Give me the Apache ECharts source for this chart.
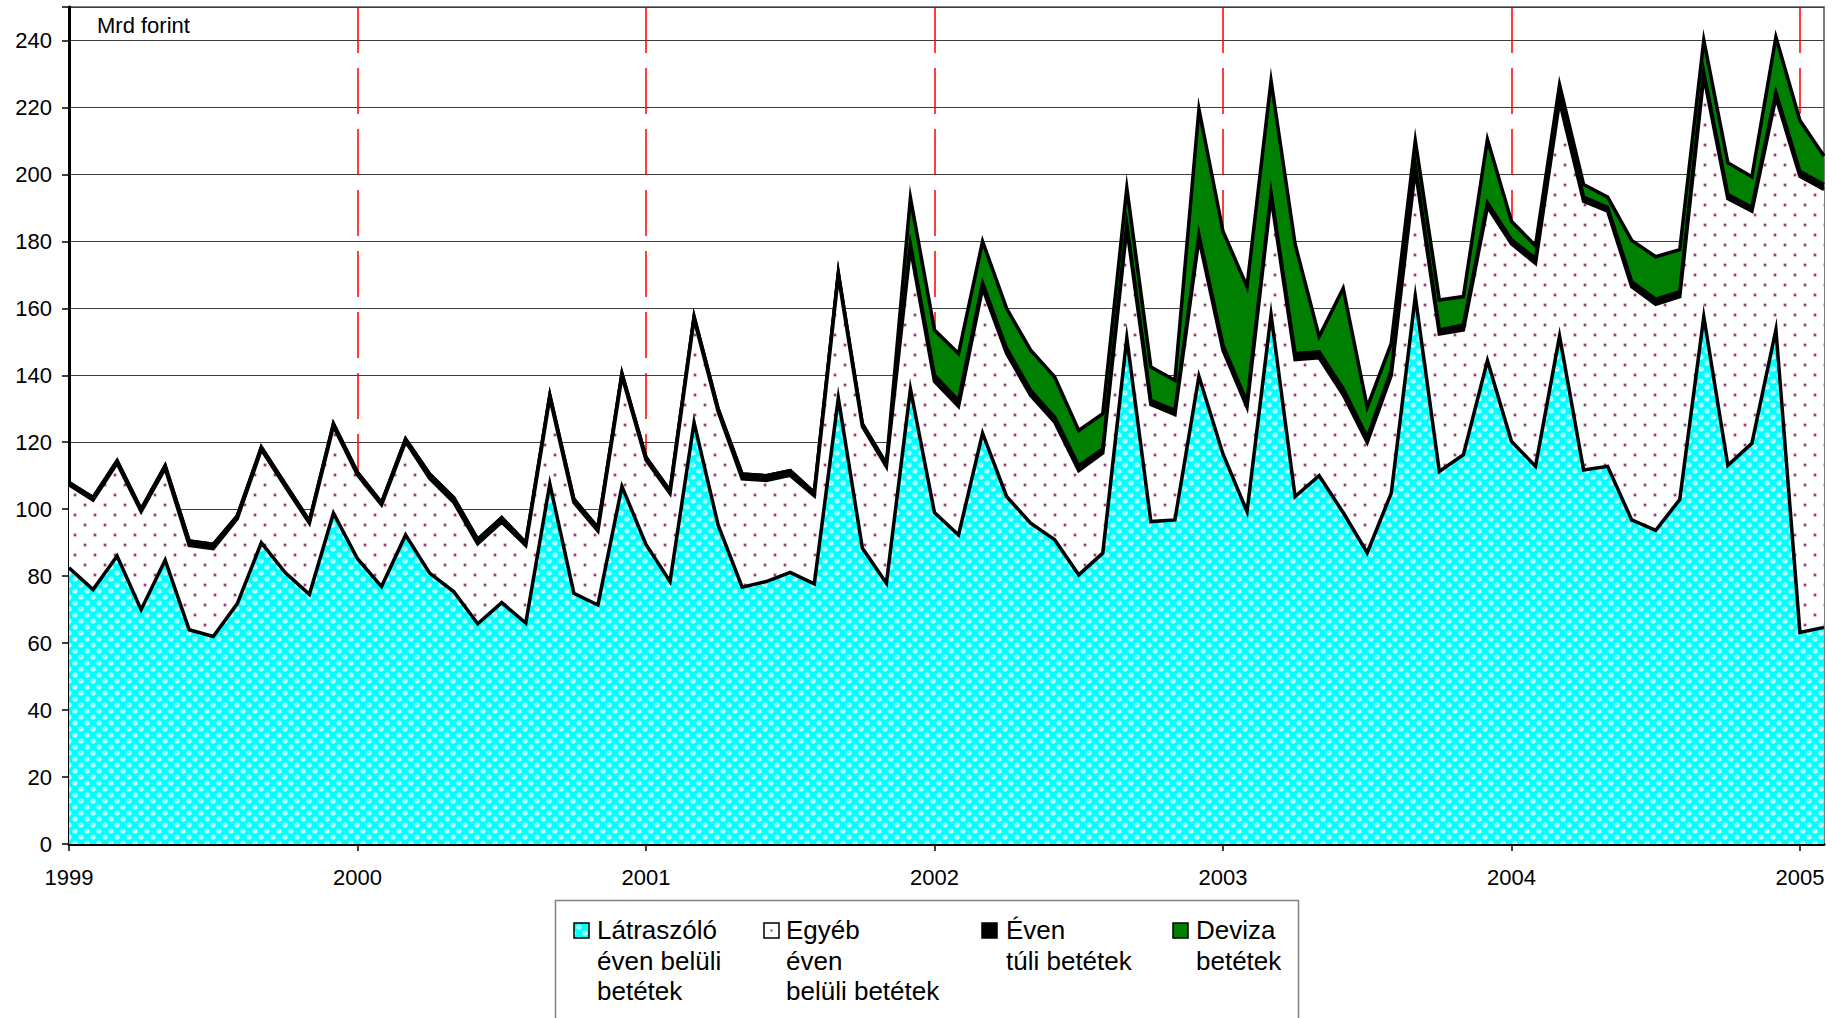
<!DOCTYPE html>
<html><head><meta charset="utf-8">
<script src="https://cdn.jsdelivr.net/npm/echarts@6/dist/echarts.min.js"></script>
<style>html,body{margin:0;padding:0;background:#fff}#chart{width:1840px;height:1018px}</style>
</head><body><div id="chart"></div>
<script>
// ---- data (Mrd forint, monthly, 1999.01 - 2005.02) ----
const yearLabels = ['1999','2000','2001','2002','2003','2004','2005'];
const monthCodes = ['01','02','03','04','05','06','07','08','09','10','11','12'];
const seriesNames = ['Látraszóló éven belüli betétek','Egyéb éven belüli betétek','Éven túli betétek','Deviza betétek'];
const legendTexts = ['Látraszóló\néven belüli\nbetétek','Egyéb\néven\nbelüli betétek','Éven\ntúli betétek','Deviza\nbetétek'];
const yAxisName = 'Mrd forint';

const latraszolo = [
  82.5,76,86,70,84.8,64,62,71.8,90,81,74.6,98.8,
  85.2,76.9,92.3,80.9,75.4,65.8,72.1,66,107.6,74.9,71.4,106.8,
  89.5,78.4,125.9,95.3,76.7,78.4,81.1,77.7,133.2,88.4,77.9,135.9,
  99,92.3,122.7,103.8,95.8,90.9,80.4,86.9,151.1,96.3,96.8,139.7,
  116.5,99.3,158.1,103.8,110,99,87,104.8,163.6,111.3,116.3,144.4,
  120.3,112.8,151.7,111.7,112.8,96.8,93.7,102.9,157.5,113.1,119.7,153.6,
  63.2,64.7];
const egyeb = [
  24.8,26.7,27.7,29.3,27.4,25.2,26.2,25.4,27.8,25.7,21.2,26.0,
  25.0,24.4,27.9,28.3,26.7,23.9,24.1,23.2,25.7,27.1,22.1,33.0,
  25.2,26.3,30.9,33.9,32.4,30.2,29.0,26.3,36.6,36.3,34.8,42.1,
  39.2,38.4,43.3,42.7,38.2,35.1,31.1,29.9,32.9,35.0,31.5,41.1,
  31.0,31.2,35.2,40.9,35.2,35.2,33.0,35.2,37.9,41.0,37.2,45.9,
  59.0,60.6,70.1,80.3,76.2,69.7,67.5,60.6,71.8,79.7,69.3,69.4,
  136.2,130.8];
const evenTuli = [
  0.7,0.8,0.8,0.7,0.8,1.3,1.3,0.8,0.7,0.8,0.7,0.7,
  0.8,0.7,0.8,1.3,1.4,1.3,1.3,0.8,0.7,1.0,1.0,0.7,
  0.8,0.8,0.7,0.8,1.4,1.4,1.4,1.0,0.7,0.8,0.8,1.0,
  1.8,1.8,1.5,1.5,1.5,1.5,1.5,1.2,1.0,1.2,1.2,1.2,
  1.5,1.5,1.2,1.8,1.8,1.8,1.5,1.5,1.0,1.2,1.5,1.2,
  1.2,1.5,1.2,1.2,1.2,1.5,1.5,1.5,1.2,1.2,1.2,1.5,
  1.5,1.5];
const deviza = [
  0,0,0,0,0,0,0,0,0,0,0,0,
  0,0,0,0,0,0,0,0,0,0,0,0,
  0,0,0,0,0,0,0,0,0,0,0,14,
  13.5,14,12.5,12,12,12,10.5,10.5,11,10,9,37.5,
  34,34.5,33.5,32.7,4.6,30,9,8,7.6,9,8.5,19,
  5.5,3.8,3.8,3.8,3,12.3,12.7,12.5,9.6,9.5,9.1,16.5,
  15.2,8.5];

const categories = [];
yearLabels.forEach(y => monthCodes.forEach(m => {
  if (categories.length < latraszolo.length) categories.push(y + '.' + m);
}));

// ---- fill patterns ----
function cyanTile() {
  const c = document.createElement('canvas'); c.width = 12; c.height = 12;
  const g = c.getContext('2d');
  g.fillStyle = '#00FFFF'; g.fillRect(0, 0, 12, 12);
  g.fillStyle = '#BFFFFF';
  [[3,3],[9,9]].forEach(p => { g.beginPath(); g.arc(p[0], p[1], 2.6, 0, Math.PI * 2); g.fill(); });
  g.strokeStyle = '#33EAEA'; g.lineWidth = 0.8;
  [[3,3],[9,9]].forEach(p => { g.beginPath(); g.arc(p[0], p[1] + 0.6, 1.3, Math.PI * 1.15, Math.PI * 1.85); g.stroke(); });
  return c;
}
function dotTile() {
  const c = document.createElement('canvas'); c.width = 20; c.height = 20;
  const g = c.getContext('2d');
  g.fillStyle = '#FFFFFF'; g.fillRect(0, 0, 20, 20);
  [[5,5],[15,15]].forEach(p => {
    g.fillStyle = '#E6C6D8'; g.beginPath(); g.arc(p[0], p[1], 2.2, 0, Math.PI * 2); g.fill();
    g.fillStyle = '#8E3A70'; g.beginPath(); g.arc(p[0], p[1], 1.2, 0, Math.PI * 2); g.fill();
  });
  return c;
}
const cyanPattern = { image: cyanTile(), repeat: 'repeat' };
const dotPattern = { image: dotTile(), repeat: 'repeat' };
const FONT = '"Liberation Sans", Arial, sans-serif';

const lineStyle = { color: '#000', width: 3.5, join: 'miter', miterLimit: 20 };
function mkSeries(i, data, fill, z) {
  return {
    name: seriesNames[i], type: 'line', stack: 'total', data: data,
    symbol: 'none', showSymbol: false, z: z,
    lineStyle: lineStyle,
    areaStyle: { color: fill, opacity: 1 },
    itemStyle: { color: typeof fill === 'string' ? fill : (i === 0 ? '#00FFFF' : '#FFFFFF') },
    emphasis: { disabled: true }
  };
}

// ---- legend (drawn as graphic so icons align with first text line) ----
const legendX = [574, 764, 982, 1173];
const textX = [597, 786, 1006, 1196];
const iconFills = [cyanPattern, '#FFFFFF', '#000000', '#008000'];
const graphic = [
  { type: 'rect', silent: true, shape: { x: 555.5, y: 900.5, width: 743, height: 200 },
    style: { fill: 'none', stroke: '#808080', lineWidth: 1.5 } }
];
for (let i = 0; i < 4; i++) {
  graphic.push({ type: 'rect', silent: true, shape: { x: legendX[i], y: 923, width: 15, height: 15 },
    style: { fill: iconFills[i], stroke: '#000', lineWidth: 1.5 } });
  graphic.push({ type: 'text', silent: true, x: textX[i], y: 915,
    style: { text: legendTexts[i], font: '26px ' + FONT, fill: '#000', lineHeight: 30.5, verticalAlign: 'top', align: 'left' } });
}
graphic.push({ type: 'rect', silent: true, shape: { x: legendX[1] + 6.5, y: 929.5, width: 2, height: 2 },
  style: { fill: '#8E3A70' } });

const chart = echarts.init(document.getElementById('chart'), null, { renderer: 'svg', width: 1840, height: 1018 });
chart.setOption({
  animation: false,
  backgroundColor: '#fff',
  textStyle: { fontFamily: FONT },
  grid: { left: 69, right: 16, top: 7, bottom: 174, show: true, borderColor: '#7f7f7f', borderWidth: 2, backgroundColor: 'transparent' },
  xAxis: {
    type: 'category', data: categories, boundaryGap: false,
    axisLine: { lineStyle: { color: '#000', width: 3 } },
    axisTick: { show: true, interval: 11, length: 7, lineStyle: { color: '#000', width: 1.5 } },
    axisLabel: { interval: 11, margin: 22, fontSize: 22, color: '#000', fontFamily: FONT, formatter: v => v.slice(0, 4) },
    splitLine: { show: true, interval: (i) => i > 0 && i % 12 === 0,
      lineStyle: { color: '#FF0000', width: 1.5, type: [46, 15] } }
  },
  yAxis: {
    type: 'value', min: 0, max: 250, interval: 20,
    name: yAxisName, nameLocation: 'end', nameGap: -18,
    nameTextStyle: { align: 'left', verticalAlign: 'middle', padding: [0, 0, 0, 28], fontSize: 22, color: '#000', fontFamily: FONT },
    axisLine: { show: true, lineStyle: { color: '#000', width: 3 } },
    axisTick: { show: true, length: 7, lineStyle: { color: '#000', width: 1.5 } },
    axisLabel: { margin: 17, fontSize: 22, color: '#000', fontFamily: FONT, formatter: v => (v > 240 ? '' : String(v)) },
    splitLine: { show: true, lineStyle: { color: '#3c3c3c', width: 1 } }
  },
  graphic: graphic,
  series: [
    mkSeries(0, latraszolo, cyanPattern, 6),
    mkSeries(1, egyeb, dotPattern, 5),
    mkSeries(2, evenTuli, '#000000', 4),
    mkSeries(3, deviza, '#008000', 3)
  ]
});
</script>
</body></html>
